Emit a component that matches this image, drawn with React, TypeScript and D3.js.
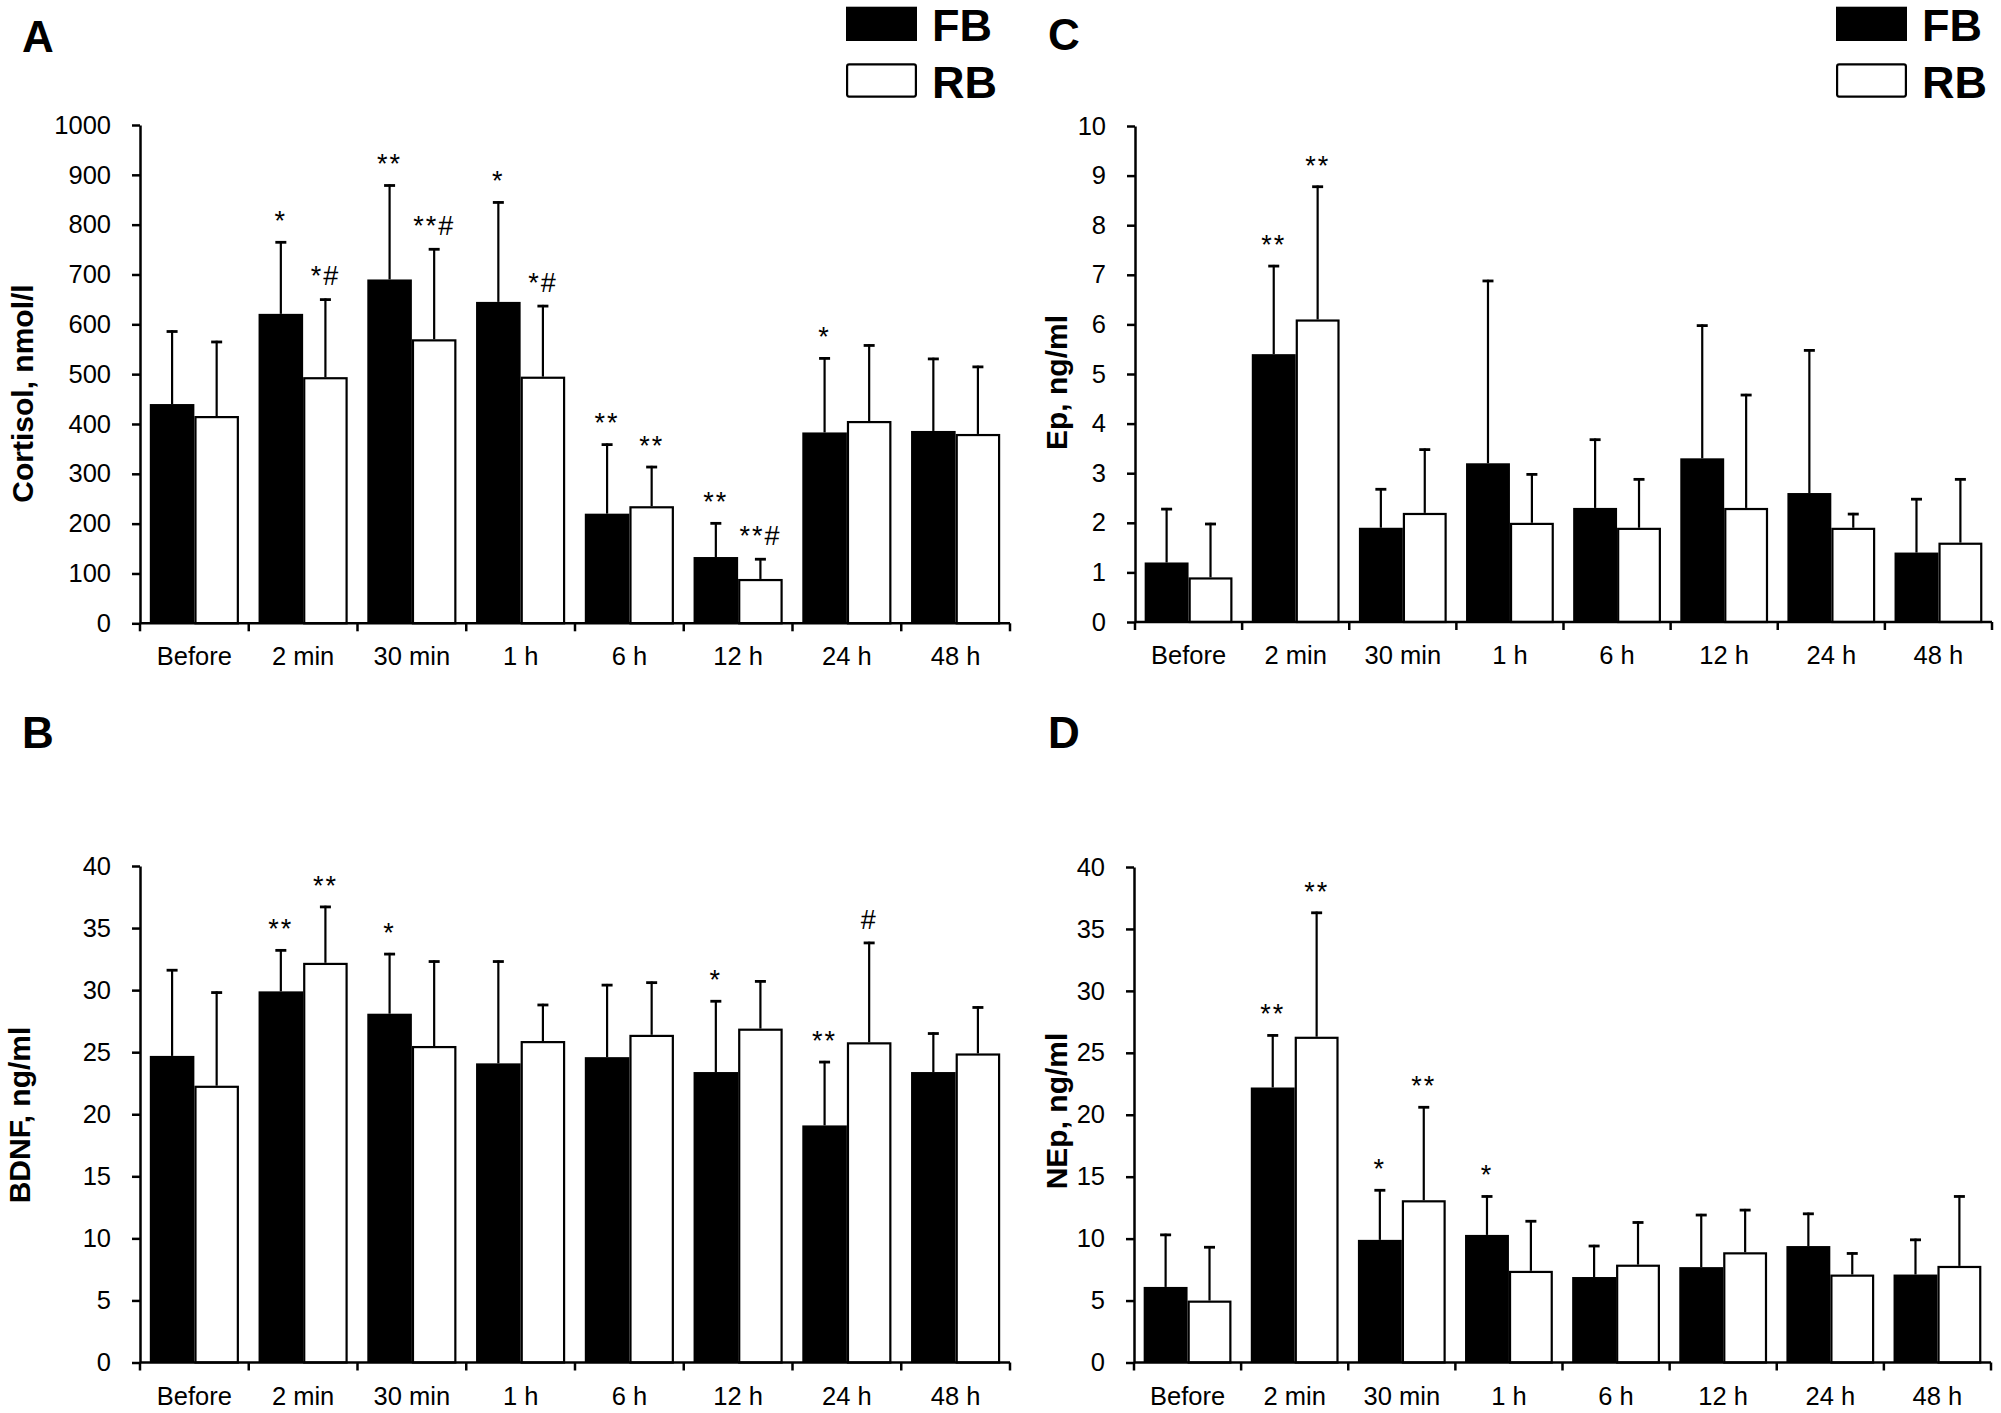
import React, { useEffect, useRef } from "react";
import * as d3 from "d3";

const categories = ["Before", "2 min", "30 min", "1 h", "6 h", "12 h", "24 h", "48 h"];
const seriesNames = ["FB", "RB"];

// A: cortisol, nmol/l
const cortisolFB = [440, 621, 690, 645, 220, 133, 383, 386];
const cortisolFBsd = [148, 146, 191, 202, 141, 70, 151, 147];
const cortisolRB = [416, 494, 570, 495, 235, 89, 406, 380];
const cortisolRBsd = [151, 158, 183, 144, 81, 42, 154, 137];
const cortisolFBmarks = ["", "*", "**", "*", "**", "**", "*", ""];
const cortisolRBmarks = ["", "*#", "**#", "*#", "**", "**#", "", ""];
const cortisolTicks = d3.range(0, 1001, 100);

// B: BDNF, ng/ml
const bdnfFB = [24.7, 29.9, 28.1, 24.1, 24.6, 23.4, 19.1, 23.4];
const bdnfFBsd = [7.0, 3.4, 4.9, 8.3, 5.9, 5.8, 5.2, 3.2];
const bdnfRB = [22.3, 32.2, 25.5, 25.9, 26.4, 26.9, 25.8, 24.9];
const bdnfRBsd = [7.6, 4.6, 6.9, 3.0, 4.3, 3.9, 8.1, 3.8];
const bdnfFBmarks = ["", "**", "*", "", "", "*", "**", ""];
const bdnfRBmarks = ["", "**", "", "", "", "", "#", ""];
const bdnfTicks = d3.range(0, 41, 5);

// C: Ep, ng/ml
const epFB = [1.2, 5.4, 1.9, 3.2, 2.3, 3.3, 2.6, 1.4];
const epFBsd = [1.1, 1.8, 0.8, 3.7, 1.4, 2.7, 2.9, 1.1];
const epRB = [0.9, 6.1, 2.2, 2.0, 1.9, 2.3, 1.9, 1.6];
const epRBsd = [1.1, 2.7, 1.3, 1.0, 1.0, 2.3, 0.3, 1.3];
const epFBmarks = ["", "**", "", "", "", "", "", ""];
const epRBmarks = ["", "**", "", "", "", "", "", ""];
const epTicks = d3.range(0, 11, 1);

// D: NEp, ng/ml
const nepFB = [6.1, 22.2, 9.9, 10.3, 6.9, 7.7, 9.4, 7.1];
const nepFBsd = [4.3, 4.3, 4.1, 3.2, 2.6, 4.3, 2.7, 2.9];
const nepRB = [5.0, 26.3, 13.1, 7.4, 7.9, 8.9, 7.1, 7.8];
const nepRBsd = [4.4, 10.1, 7.6, 4.1, 3.5, 3.5, 1.8, 5.7];
const nepFBmarks = ["", "**", "*", "*", "", "", "", ""];
const nepRBmarks = ["", "**", "**", "", "", "", "", ""];
const nepTicks = d3.range(0, 41, 5);

const FONT = "'Liberation Sans', Arial, Helvetica, sans-serif";

interface PanelSpec {
    letter: string;
    yTitle: string;
    means: number[][];
    sds: number[][];
    marks: string[][];
    ticks: number[];
    xRange: [number, number];
    yRange: [number, number];
    letterPos: [number, number];
    titlePos: [number, number];
    legendPos?: [number, number];
}

const panels: PanelSpec[] = [
    {
        letter: "A", yTitle: "Cortisol, nmol/l",
        means: [cortisolFB, cortisolRB], sds: [cortisolFBsd, cortisolRBsd],
        marks: [cortisolFBmarks, cortisolRBmarks], ticks: cortisolTicks,
        xRange: [140, 1010], yRange: [623.3, 125],
        letterPos: [22, 51.7], titlePos: [33, 393.5], legendPos: [846, 6.7],
    },
    {
        letter: "B", yTitle: "BDNF, ng/ml",
        means: [bdnfFB, bdnfRB], sds: [bdnfFBsd, bdnfRBsd],
        marks: [bdnfFBmarks, bdnfRBmarks], ticks: bdnfTicks,
        xRange: [140, 1010], yRange: [1362.5, 866],
        letterPos: [22, 748], titlePos: [29.5, 1115],
    },
    {
        letter: "C", yTitle: "Ep, ng/ml",
        means: [epFB, epRB], sds: [epFBsd, epRBsd],
        marks: [epFBmarks, epRBmarks], ticks: epTicks,
        xRange: [1135, 1992], yRange: [622, 126],
        letterPos: [1048, 50], titlePos: [1066.5, 382.5], legendPos: [1836, 6.7],
    },
    {
        letter: "D", yTitle: "NEp, ng/ml",
        means: [nepFB, nepRB], sds: [nepFBsd, nepRBsd],
        marks: [nepFBmarks, nepRBmarks], ticks: nepTicks,
        xRange: [1134, 1991], yRange: [1362.5, 867],
        letterPos: [1048, 747.7], titlePos: [1066.5, 1111],
    },
];

function drawPanel(svg: d3.Selection<SVGSVGElement, unknown, null, undefined>, p: PanelSpec) {
    const g = svg.append("g").attr("font-family", FONT);
    const yMax = p.ticks[p.ticks.length - 1];

    const x = d3.scaleBand<string>().domain(categories).range(p.xRange);
    const xs = d3.scaleBand<string>().domain(seriesNames).range([0, x.bandwidth()]).paddingOuter(0.22);
    const y = d3.scaleLinear().domain([0, yMax]).range(p.yRange);
    const y0 = y(0);

    // y axis
    const yAxis = d3.axisLeft(y)
        .tickValues(p.ticks)
        .tickFormat(d3.format("d"))
        .tickSize(8)
        .tickSizeOuter(0)
        .tickPadding(21);
    g.append("g")
        .attr("transform", `translate(${p.xRange[0]},0)`)
        .call(yAxis)
        .attr("font-size", 25.5)
        .attr("font-family", FONT)
        .call(a => a.selectAll("line").attr("stroke-width", 2.5))
        .call(a => a.select(".domain").attr("stroke-width", 2.5));

    const rows = categories.flatMap((c, i) => seriesNames.map((s, si) => ({
        c, s, si,
        mean: p.means[si][i],
        sd: p.sds[si][i],
        mark: p.marks[si][i],
    })));
    const cx = (d: { c: string; s: string }) => x(d.c)! + xs(d.s)! + xs.bandwidth() / 2;

    // error bars (upper only)
    const err = g.append("g").attr("stroke", "#000");
    err.selectAll("line.stem").data(rows).join("line")
        .attr("class", "stem")
        .attr("x1", cx).attr("x2", cx)
        .attr("y1", d => y(d.mean)).attr("y2", d => y(d.mean + d.sd))
        .attr("stroke-width", 2.2);
    err.selectAll("line.cap").data(rows).join("line")
        .attr("class", "cap")
        .attr("x1", d => cx(d) - 5.5).attr("x2", d => cx(d) + 5.5)
        .attr("y1", d => y(d.mean + d.sd) + 1.2).attr("y2", d => y(d.mean + d.sd) + 1.2)
        .attr("stroke-width", 2.8);

    // bars
    g.append("g").selectAll("rect").data(rows).join("rect")
        .attr("x", d => x(d.c)! + xs(d.s)! + (d.si === 1 ? 1.1 : 0))
        .attr("width", d => xs.bandwidth() - (d.si === 1 ? 2.2 : 0))
        .attr("y", d => y(d.mean) + (d.si === 1 ? 1.1 : 0))
        .attr("height", d => y0 - y(d.mean) - (d.si === 1 ? 1.1 : 0))
        .attr("fill", d => (d.si === 0 ? "#000" : "#fff"))
        .attr("stroke", d => (d.si === 0 ? "none" : "#000"))
        .attr("stroke-width", 2.2);

    // significance marks
    g.append("g").selectAll("text").data(rows.filter(d => d.mark)).join("text")
        .attr("x", cx)
        .attr("y", d => y(d.mean + d.sd) - (d.mark.includes("#") ? 13 : 11))
        .attr("text-anchor", "middle")
        .attr("font-size", 27)
        .attr("letter-spacing", 2)
        .text(d => d.mark);

    // x axis with ticks between categories
    const xa = g.append("g").attr("stroke", "#000").attr("stroke-width", 2.5);
    xa.append("line").attr("x1", p.xRange[0]).attr("x2", p.xRange[1]).attr("y1", y0).attr("y2", y0);
    const bounds = categories.map(c => x(c)!).concat([p.xRange[1]]);
    xa.selectAll("line.tick").data(bounds).join("line")
        .attr("class", "tick")
        .attr("x1", d => d).attr("x2", d => d)
        .attr("y1", y0).attr("y2", y0 + 8);
    g.append("g").selectAll("text").data(categories).join("text")
        .attr("x", c => x(c)! + x.bandwidth() / 2)
        .attr("y", y0 + 42)
        .attr("text-anchor", "middle")
        .attr("font-size", 25.5)
        .text(c => c);

    // y title
    g.append("text")
        .attr("transform", `translate(${p.titlePos[0]},${p.titlePos[1]}) rotate(-90)`)
        .attr("text-anchor", "middle")
        .attr("font-size", 30)
        .attr("font-weight", "bold")
        .text(p.yTitle);

    // panel letter
    g.append("text")
        .attr("x", p.letterPos[0]).attr("y", p.letterPos[1])
        .attr("font-size", 44)
        .attr("font-weight", "bold")
        .text(p.letter);

    // legend
    if (p.legendPos) {
        const [lx, ly] = p.legendPos;
        const leg = g.append("g").attr("transform", `translate(${lx},${ly})`);
        seriesNames.forEach((s, si) => {
            const top = si * 56.6;
            leg.append("rect")
                .attr("x", si === 1 ? 1.1 : 0).attr("y", top + (si === 1 ? 1.1 : 0))
                .attr("width", si === 1 ? 68.8 : 71).attr("height", si === 1 ? 32.2 : 34.3)
                .attr("rx", si === 1 ? 2 : 0)
                .attr("fill", si === 0 ? "#000" : "#fff")
                .attr("stroke", si === 0 ? "none" : "#000")
                .attr("stroke-width", 2.2);
            leg.append("text")
                .attr("x", 86).attr("y", top + 34.5)
                .attr("font-size", 45)
                .attr("font-weight", "bold")
                .text(s);
        });
    }
}

export default function App() {
    const ref = useRef<SVGSVGElement>(null);

    useEffect(() => {
        if (!ref.current) return;
        const svg = d3.select(ref.current);
        svg.selectAll("*").remove();
        panels.forEach(p => drawPanel(svg, p));
    }, []);

    return (
        <svg
            ref={ref}
            width={2001}
            height={1413}
            style={{ position: "absolute", left: 0, top: 0, background: "#fff" }}
        />
    );
}
